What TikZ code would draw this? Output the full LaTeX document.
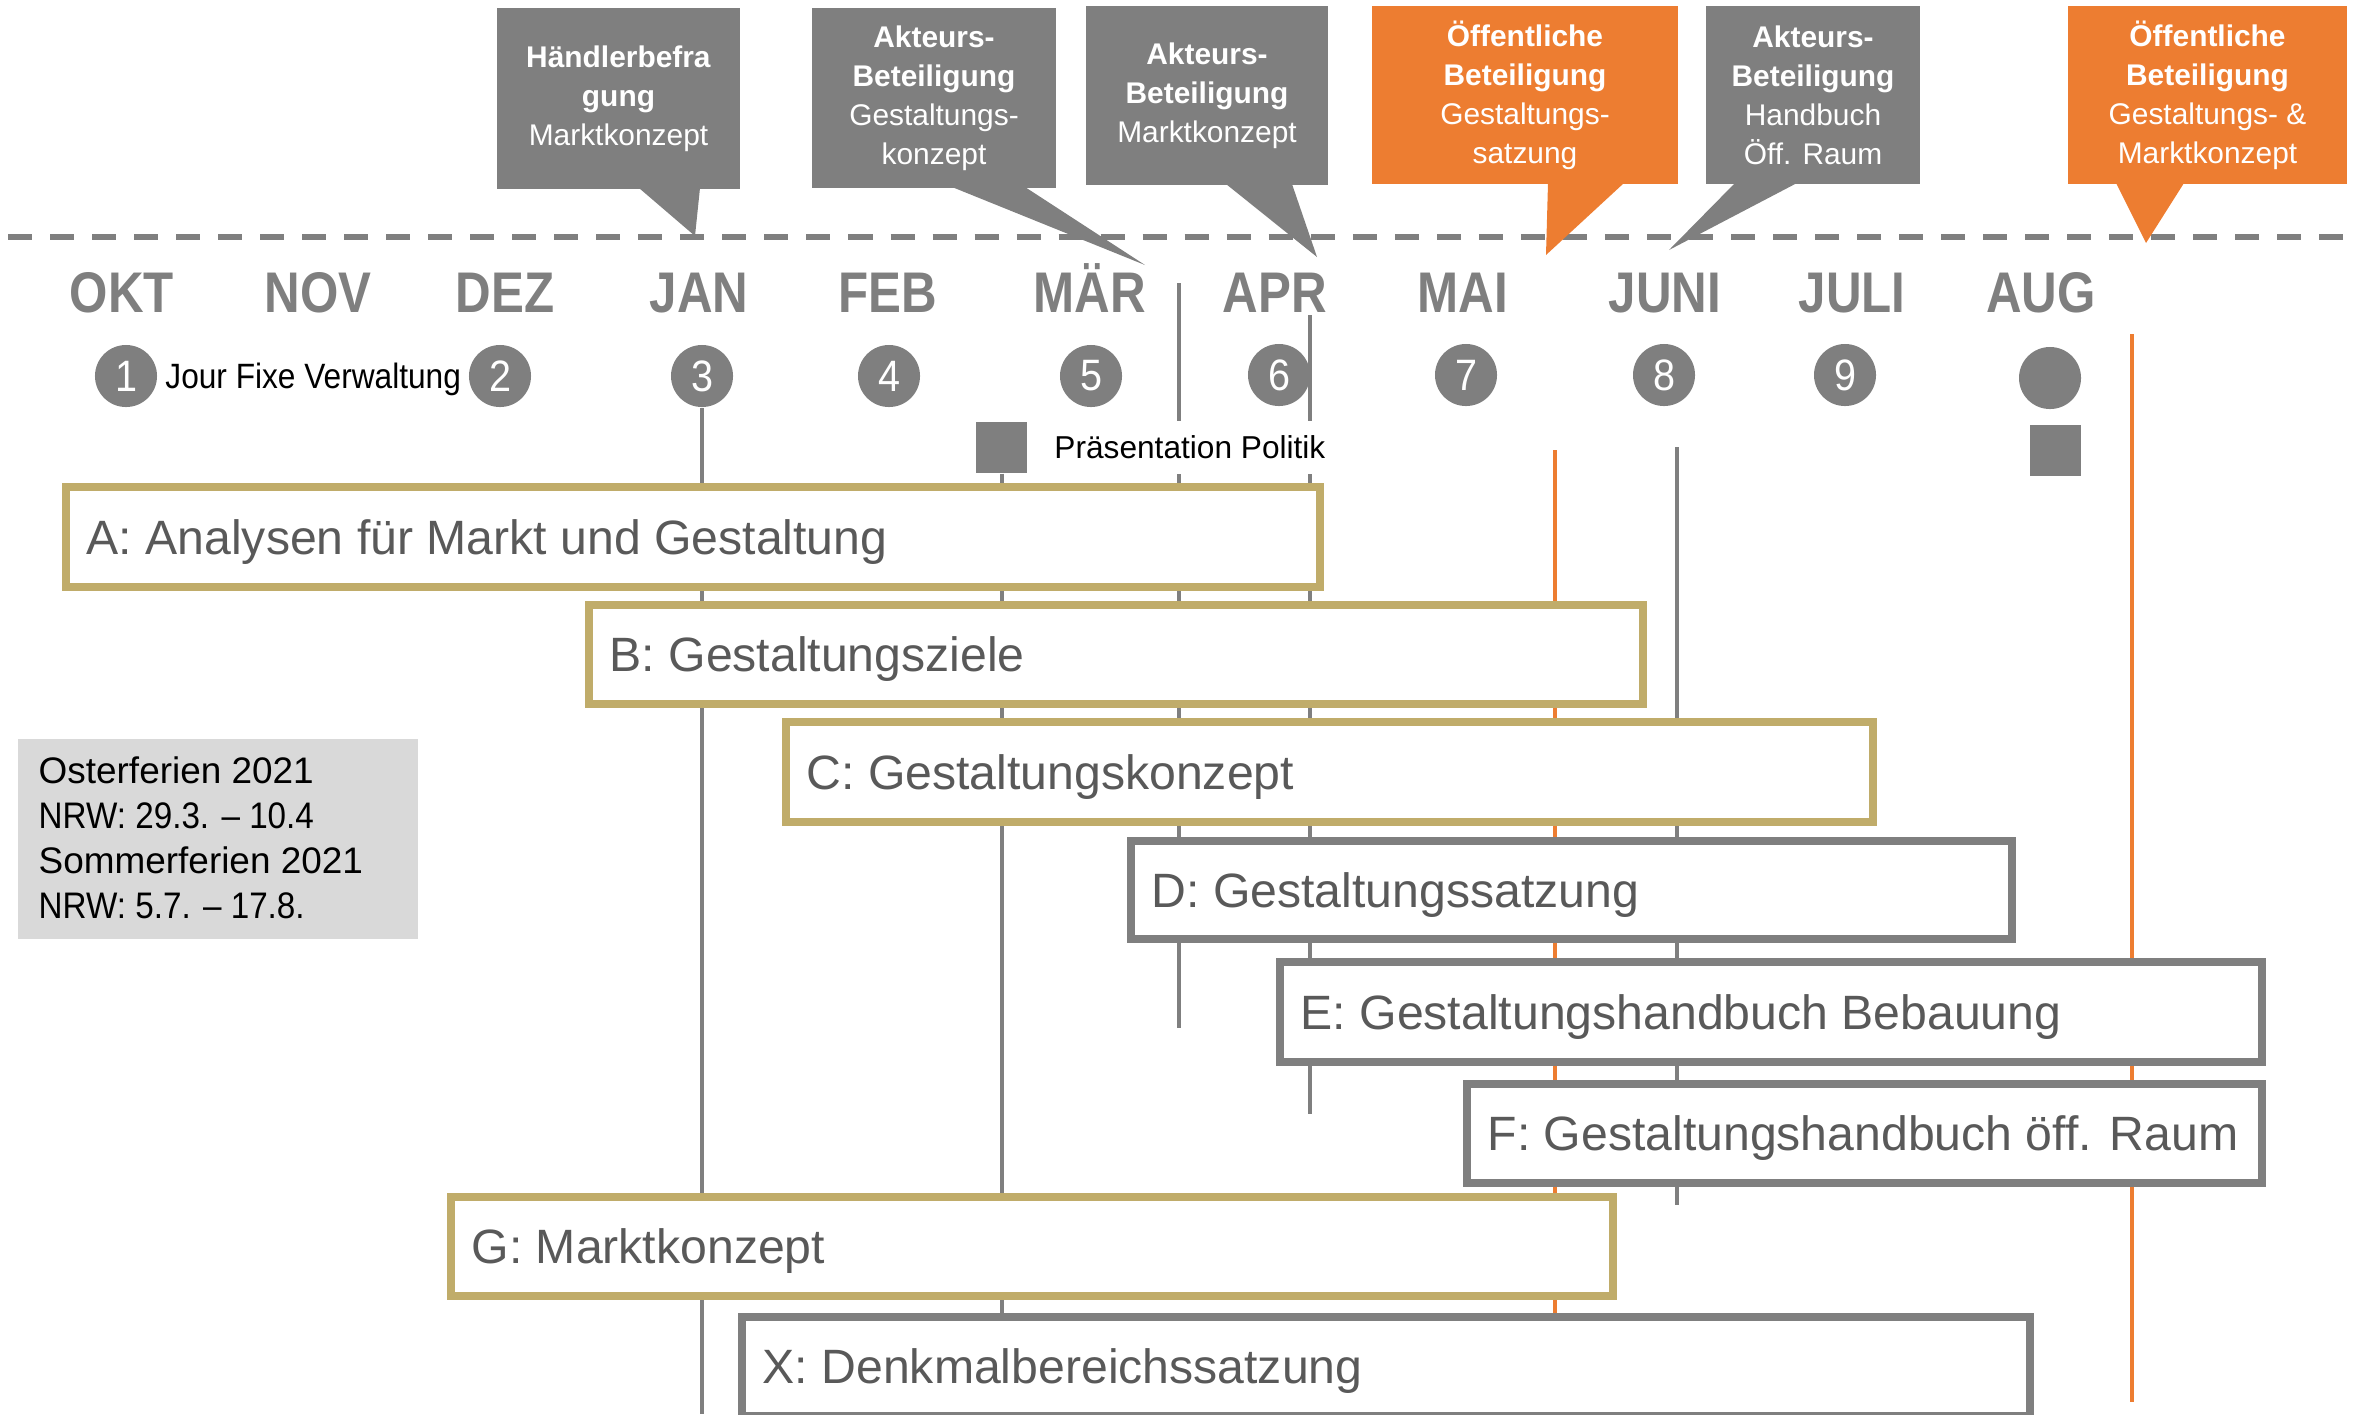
\documentclass[tikz,border=0pt]{standalone}
\usepackage{fontspec}
\setmainfont{Liberation Sans}
\newfontfamily\narrowbf{Liberation Sans}[FakeStretch=0.86]
\newfontfamily\thinfont{Liberation Sans}[FakeStretch=0.9]
\usetikzlibrary{positioning}
\definecolor{grau}{HTML}{7F7F7F}
\definecolor{orng}{HTML}{ED7D31}
\definecolor{ocker}{RGB}{192,172,106}
\definecolor{txtgrau}{HTML}{595959}
\definecolor{hell}{HTML}{D9D9D9}
\begin{document}
\begin{tikzpicture}[x=0.01cm, y=-0.01cm,
    bar/.style={line width=0.08cm, fill=white},
    bartxt/.style={anchor=base west, inner sep=0, text=txtgrau, font=\fontsize{13.7}{16}\selectfont},
    month/.style={anchor=base, text=grau, font=\narrowbf\bfseries\fontsize{16.3}{18}\selectfont},
    ms/.style={circle, fill=grau, text=white, minimum size=0.62cm, inner sep=0, font=\thinfont\fontsize{12.5}{14}\selectfont},
    sq/.style={fill=grau, minimum size=0.51cm, inner sep=0},
    callout/.style={text=white, inner sep=0, align=center, font=\fontsize{8.5}{11.1}\selectfont},
    note/.style={inner sep=0, font=\fontsize{9}{11}\selectfont},
    vline/.style={line width=0.04cm}]
    \useasboundingbox (0,0) rectangle (2354,1414);

    % Months
    \node[month] (okt) at (122,312) {OKT};
    \node[month] (nov) at (318,312) {NOV};
    \node[month] (dez) at (505,312) {DEZ};
    \node[month] (jan) at (699,312) {JAN};
    \node[month] (feb) at (888,312) {FEB};
    \node[month] (mar) at (1090,312) {MÄR};
    \node[month] (apr) at (1275,312) {APR};
    \node[month] (mai) at (1463,312) {MAI};
    \node[month] (jun) at (1665,312) {JUNI};
    \node[month] (jul) at (1852,312) {JULI};
    \node[month] (aug) at (2041,312) {AUG};

    % Jour fixe
    \node[ms] (c1) at (126,376) {1};
    \node[ms] (c2) at (500,376) {2};
    \node[ms] (c3) at (702,376) {3};
    \node[ms] (c4) at (889,376) {4};
    \node[ms] (c5) at (1091,376) {5};
    \node[ms] (c6) at (1279,375) {6};
    \node[ms] (c7) at (1466,375) {7};
    \node[ms] (c8) at (1664,375) {8};
    \node[ms] (c9) at (1845,375) {9};
    \node[ms] (c10) at (2050,378) {};
    \node[note, font=\thinfont\fontsize{10}{12}\selectfont, right=0.07cm of c1, yshift=-0.03cm] (jf) {Jour Fixe Verwaltung};

    % Politik
    \node[sq] (sq1) at (1001.5,447.5) {};
    \node[sq] (sq2) at (2055.5,450) {};

    % Timeline
    \draw[grau, line width=0.06cm, dash pattern=on 0.24cm off 0.18cm] (8,237) -- (2346,237);

    % Callouts
    \node[callout, fill=grau, minimum width=2.43cm, minimum height=1.81cm] (hb) at (618.5,98.5)
        {\textbf{Händlerbefra}\\\textbf{gung}\\Marktkonzept};
    \fill[grau] (639,188) -- (695,236) -- (700,188) -- cycle;
    \node[callout, fill=grau, minimum width=2.44cm, minimum height=1.80cm] (ak1) at (934,98)
        {\textbf{Akteurs-}\\\textbf{Beteiligung}\\Gestaltungs-\\konzept};
    \fill[grau] (952,187) -- (1145,265) -- (1025,187) -- cycle;
    \node[callout, fill=grau, minimum width=2.42cm, minimum height=1.79cm] (ak2) at (1207,95.5)
        {\textbf{Akteurs-}\\\textbf{Beteiligung}\\Marktkonzept};
    \fill[grau] (1226,184) -- (1317,257) -- (1292,184) -- cycle;
    \node[callout, fill=orng, minimum width=3.06cm, minimum height=1.78cm] (oe1) at (1525,95)
        {\textbf{Öffentliche}\\\textbf{Beteiligung}\\Gestaltungs-\\satzung};
    \fill[orng] (1548,183) -- (1546,255) -- (1624,183) -- cycle;
    \node[callout, fill=grau, minimum width=2.14cm, minimum height=1.78cm] (ak3) at (1813,95)
        {\textbf{Akteurs-}\\\textbf{Beteiligung}\\Handbuch\\Öff. Raum};
    \fill[grau] (1735,183) -- (1669,250) -- (1797,183) -- cycle;
    \node[callout, fill=orng, minimum width=2.79cm, minimum height=1.78cm] (oe2) at (2207.5,95)
        {\textbf{Öffentliche}\\\textbf{Beteiligung}\\Gestaltungs- \&\\Marktkonzept};
    \fill[orng] (2116,183) -- (2146,243) -- (2184,183) -- cycle;

    % Markers
    \draw[vline, grau] (c3.south) -- (702,1414);
    \draw[vline, grau] (sq1.south) -- (1001.5,1320);
    \draw[vline, grau] (1179,283) -- (1179,1028);
    \draw[vline, grau] (1310,315) -- (1310,1114);
    \draw[vline, orng] (1555,450) -- (1555,1313);
    \draw[vline, grau] (1677,447) -- (1677,1205);
    \draw[vline, orng] (2132,334) -- (2132,1402);
    \node[note, fill=white, inner xsep=0.1cm, inner ysep=0.15cm, right=0.16cm of sq1] (pp) {Präsentation Politik};

    % Bars
    \draw[bar, draw=ocker] (66,487) rectangle (1320,587);
    \node[bartxt] (A) at (86,554) {A: Analysen für Markt und Gestaltung};
    \draw[bar, draw=ocker] (589,605) rectangle (1643,704);
    \node[bartxt] (B) at (609,671.5) {B: Gestaltungsziele};
    \draw[bar, draw=ocker] (786,722) rectangle (1873,822);
    \node[bartxt] (C) at (806,789) {C: Gestaltungskonzept};
    \draw[bar, draw=grau] (1131,841) rectangle (2012,939);
    \node[bartxt] (D) at (1151,907) {D: Gestaltungssatzung};
    \draw[bar, draw=grau] (1280,962) rectangle (2262,1062);
    \node[bartxt] (E) at (1300,1029) {E: Gestaltungshandbuch Bebauung};
    \draw[bar, draw=grau] (1467,1084) rectangle (2262,1183);
    \node[bartxt] (F) at (1487,1150.5) {F: Gestaltungshandbuch öff. Raum};
    \draw[bar, draw=ocker] (451,1197) rectangle (1613,1296);
    \node[bartxt] (G) at (471,1263.5) {G: Marktkonzept};
    \draw[bar, draw=grau] (742,1317) rectangle (2030,1416);
    \node[bartxt] (X) at (762,1383) {X: Denkmalbereichssatzung};

    % Ferien
    \fill[hell] (18,739) rectangle (418,939);
    \node[anchor=north west, inner sep=0, align=left, font=\fontsize{10.5}{12.8}\selectfont] (ferien) at (38,756)
        {Osterferien 2021\\\thinfont NRW: 29.3. – 10.4\\Sommerferien 2021\\\thinfont NRW: 5.7. – 17.8.};
\end{tikzpicture}
\end{document}
